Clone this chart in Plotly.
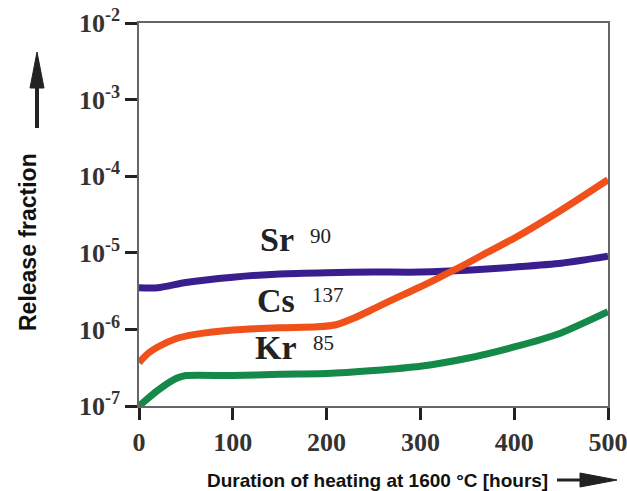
import plotly.graph_objects as go

# ---- data ----
hours_sr = [0, 20, 50, 100, 150, 200, 250, 300, 350, 400, 450, 500]
sr90 = [3.5e-6, 3.5e-6, 4.1e-6, 4.8e-6, 5.3e-6, 5.5e-6, 5.6e-6, 5.6e-6, 5.9e-6, 6.5e-6, 7.3e-6, 9.0e-6]

hours_cs = [0, 10, 20, 40, 60, 100, 150, 190, 210, 230, 250, 275, 300, 325, 350, 375, 400, 450, 500]
cs137 = [3.7e-7, 4.9e-7, 5.9e-7, 7.6e-7, 8.6e-7, 9.8e-7, 1.05e-6, 1.08e-6, 1.15e-6, 1.42e-6, 1.85e-6, 2.6e-6,
         3.6e-6, 5.1e-6, 7.3e-6, 1.07e-5, 1.55e-5, 3.6e-5, 9.0e-5]

hours_kr = [0, 20, 40, 50, 100, 150, 200, 250, 300, 350, 400, 450, 500]
kr85 = [1.0e-7, 1.6e-7, 2.3e-7, 2.5e-7, 2.5e-7, 2.6e-7, 2.65e-7, 2.9e-7, 3.3e-7, 4.2e-7, 5.9e-7, 9.0e-7, 1.7e-6]

x_ticks = [0, 100, 200, 300, 400, 500]
y_ticks = [1e-7, 1e-6, 1e-5, 1e-4, 1e-3, 1e-2]
y_ticktext = ["10<sup>-7</sup>", "10<sup>-6</sup>", "10<sup>-5</sup>", "10<sup>-4</sup>", "10<sup>-3</sup>", "10<sup>-2</sup>"]

labels = [
    # element, mass number, label x (h), label y (log10), mass x, mass y
    ("Sr", "90", 147, -4.82, 193, -4.78),
    ("Cs", "137", 146, -5.62, 202, -5.55),
    ("Kr", "85", 146, -6.24, 197, -6.18),
]

colors = {"Sr": "#3a1e8e", "Cs": "#f0501a", "Kr": "#14894a"}

W, H = 627, 491
L, R, T, B = 139, 19, 23, 85
PW, PH = W - L - R, H - T - B


def px(xp):
    return (xp - L) / PW


def py(yp):
    return (H - B - yp) / PH


fig = go.Figure()
for name, xs, ys in [("Sr", hours_sr, sr90), ("Cs", hours_cs, cs137), ("Kr", hours_kr, kr85)]:
    fig.add_trace(go.Scatter(x=xs, y=ys, mode="lines", name=name,
                             line=dict(color=colors[name], width=7, shape="spline", smoothing=0.6),
                             cliponaxis=False, showlegend=False))

serif = "Liberation Serif"
sans = "Liberation Sans"

fig.update_layout(
    width=W, height=H,
    margin=dict(l=L, r=R, t=T, b=B, autoexpand=False),
    paper_bgcolor="white", plot_bgcolor="white",
    xaxis=dict(range=[0, 500], tickvals=x_ticks, ticks="outside", ticklen=12, tickwidth=3,
               tickcolor="#222", showline=True, linecolor="#666", linewidth=1.5, mirror=True,
               showgrid=False, zeroline=False, automargin=False, ticklabeloverflow="allow",
               tickfont=dict(family=serif, size=26, color="#333", weight="bold")),
    yaxis=dict(type="log", range=[-7, -2], tickvals=y_ticks, ticktext=y_ticktext,
               ticks="outside", ticklen=12, tickwidth=3, tickcolor="#222",
               showline=True, linecolor="#666", linewidth=1.5, mirror=True,
               showgrid=False, zeroline=False, automargin=False, ticklabeloverflow="allow",
               tickfont=dict(family=serif, size=26, color="#333", weight="bold")),
)

ann = []
for el, mass, ex, ey, mx, my in labels:
    ann.append(dict(x=ex, y=ey, xref="x", yref="y", text=el, showarrow=False,
                    xanchor="center", yanchor="middle",
                    font=dict(family=serif, size=34, color="#222", weight="bold")))
    ann.append(dict(x=mx, y=my, xref="x", yref="y", text=mass, showarrow=False,
                    xanchor="center", yanchor="middle",
                    font=dict(family=serif, size=21, color="#222")))

ann.append(dict(x=px(28), y=py(242), xref="paper", yref="paper", text="Release fraction",
                textangle=-90, showarrow=False, xanchor="center", yanchor="middle",
                font=dict(family=sans, size=23, color="#111", weight="bold")))
ann.append(dict(x=px(377), y=py(480), xref="paper", yref="paper",
                text="Duration of heating at 1600 °C [hours]", showarrow=False,
                xanchor="center", yanchor="middle",
                font=dict(family=sans, size=19, color="#111", weight="bold")))
fig.update_layout(annotations=ann)

# arrows next to axis titles
shapes = [
    dict(type="line", xref="paper", yref="paper", x0=px(37), x1=px(37), y0=py(128), y1=py(85),
         line=dict(color="#222", width=4)),
    dict(type="path", xref="paper", yref="paper",
         path=f"M {px(37)},{py(52)} L {px(30)},{py(88)} L {px(44)},{py(88)} Z",
         fillcolor="#222", line=dict(color="#222", width=1)),
    dict(type="line", xref="paper", yref="paper", x0=px(557), x1=px(585), y0=py(480), y1=py(480),
         line=dict(color="#222", width=3)),
    dict(type="path", xref="paper", yref="paper",
         path=f"M {px(617)},{py(480)} L {px(580)},{py(473)} L {px(580)},{py(487)} Z",
         fillcolor="#222", line=dict(color="#222", width=1)),
]
fig.update_layout(shapes=shapes)

fig.write_html("out.html")
